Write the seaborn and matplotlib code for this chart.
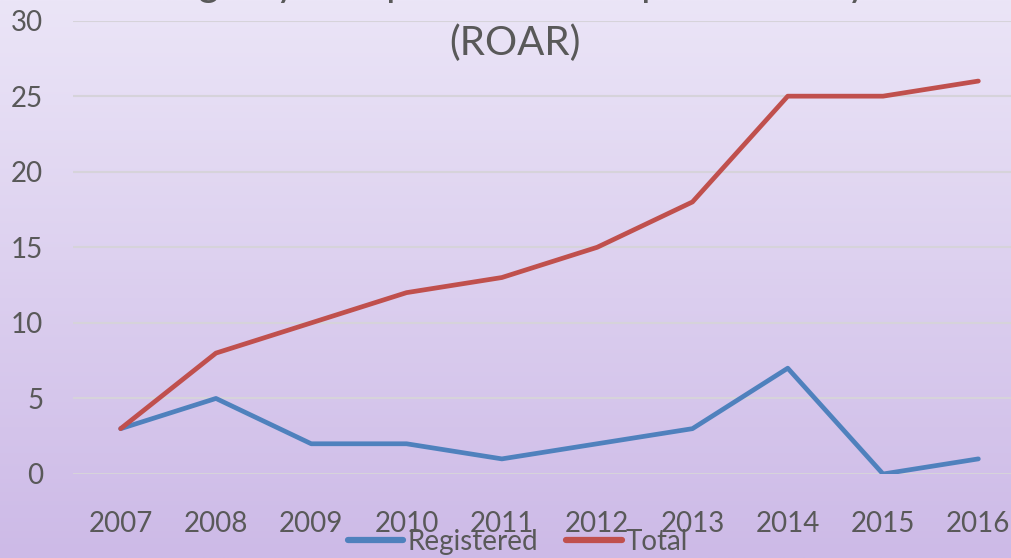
import numpy as np
import pandas as pd
import matplotlib
matplotlib.use("Agg")
import matplotlib.pyplot as plt
import seaborn as sns
from matplotlib.lines import Line2D

years = ["2007", "2008", "2009", "2010", "2011", "2012", "2013", "2014", "2015", "2016"]
registered = [3, 5, 2, 2, 1, 2, 3, 7, 0, 1]
total = [3, 8, 10, 12, 13, 15, 18, 25, 25, 26]
series_names = ["Registered", "Total"]
colors = ["#4F81BD", "#C0504D"]
yticks = [0, 5, 10, 15, 20, 25, 30]
title_line1 = "Registry of Open Access Repositories by Year"
title_line2 = "(ROAR)"

sns.set_style("white")
plt.rcParams["font.family"] = ["Lato", "DejaVu Sans"]

df = pd.DataFrame({
    "x": list(range(len(years))) * 2,
    "value": registered + total,
    "series": [series_names[0]] * len(years) + [series_names[1]] * len(years),
})

W, H = 1011, 558
fig = plt.figure(figsize=(W / 100, H / 100), dpi=100)

# gradient background
bg = fig.add_axes([0, 0, 1, 1], zorder=-10)
top = np.array([235, 229, 247]) / 255
bot = np.array([205, 186, 231]) / 255
t = np.linspace(0, 1, 256)[:, None]
grad = top[None, None, :] * (1 - t[..., None]) + bot[None, None, :] * t[..., None]
grad = np.repeat(grad, 2, axis=1)
bg.imshow(grad, aspect="auto", extent=[0, 1, 0, 1])
bg.axis("off")

left, right = 73, 1026
ytop, ybot = 20.6, 474
ax = fig.add_axes([left / W, 1 - ybot / H, (right - left) / W, (ybot - ytop) / H])
ax.set_facecolor("none")

sns.lineplot(data=df, x="x", y="value", hue="series", palette=colors,
             linewidth=3.4, ax=ax, legend=False, zorder=3)

ax.set_xlim(-0.5, len(years) - 0.5)
ax.set_ylim(0, 30)
ax.set_yticks(yticks)
ax.set_xticks(range(len(years)))
ax.set_xticklabels(years)
ax.set_xlabel("")
ax.set_ylabel("")
ax.grid(axis="y", color="#D6D3DA", linewidth=1.5, zorder=0)
ax.grid(axis="x", visible=False)
for s in ax.spines.values():
    s.set_visible(False)
ax.tick_params(axis="both", length=0, labelsize=20, labelcolor="#595959")
ax.tick_params(axis="y", pad=21.5)
ax.tick_params(axis="x", pad=27)

# title (first line cut off at top, as in the reference)
fig.text(515 / W, 1 - 55 / H, title_line2, ha="center", va="baseline",
         fontsize=29, color="#595959")
fig.text(555 / W, 1 - (-4) / H, title_line1, ha="center", va="baseline",
         fontsize=29, color="#595959")

handles = [Line2D([0], [0], color=c, linewidth=4.5) for c in colors]
fig.legend(handles, series_names, loc="center", bbox_to_anchor=(518 / W, 1 - 542 / H),
           ncol=2, frameon=False, fontsize=20, labelcolor="#595959",
           handlelength=2.0, handletextpad=0.15, columnspacing=1.0,
           borderpad=0, borderaxespad=0)

fig.savefig("out.png", dpi=100)
